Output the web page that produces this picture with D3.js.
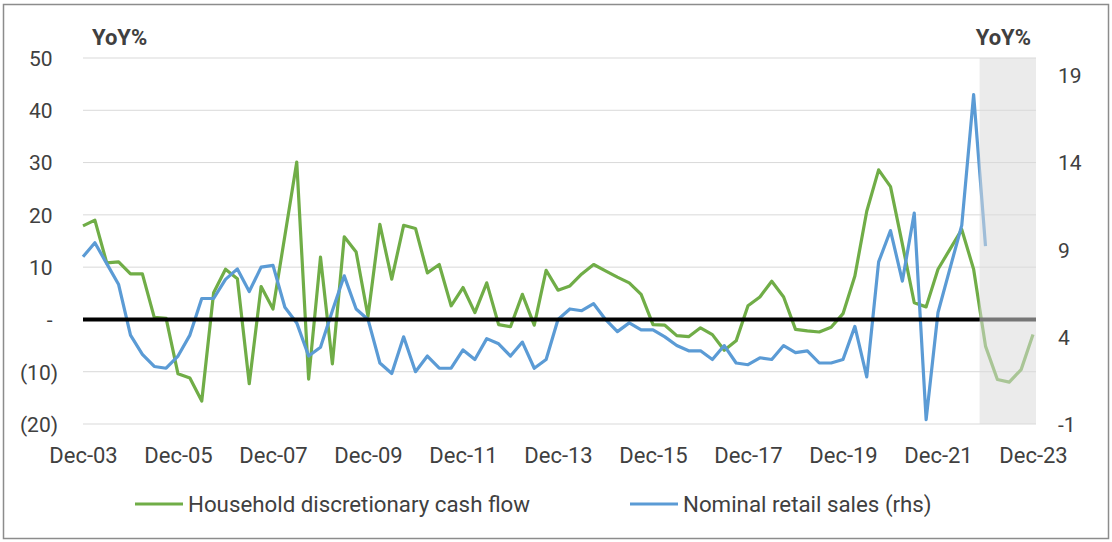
<!DOCTYPE html>
<html>
<head>
<meta charset="utf-8">
<script src="https://cdn.jsdelivr.net/npm/d3@7"></script>
<style>
  body { margin: 0; background: #fff; }
  svg text { font-family: Roboto, "Noto Sans", sans-serif; fill: #404040; }
</style>
</head>
<body>
<div id="chart"></div>
<script>
// quarterly, Dec-03 .. Dec-23 (81 points)
const xTickLabels = ['Dec-03','Dec-05','Dec-07','Dec-09','Dec-11','Dec-13','Dec-15','Dec-17','Dec-19','Dec-21','Dec-23'];
const leftTicks = [-20, -10, 0, 10, 20, 30, 40, 50];
const rightTicks = [-1, 4, 9, 14, 19];

// Household discretionary cash flow, YoY% (lhs); last 5 quarters = forecast
const cashFlow = [
  17.9, 19.0, 10.8, 11.0, 8.7, 8.7, 0.4, 0.2,
  -10.4, -11.2, -15.6, 5.1, 9.6, 7.8, -12.3, 6.3,
  2.0, 16.0, 30.1, -11.4, 11.9, -8.5, 15.8, 12.9,
  0.6, 18.2, 7.7, 18.0, 17.4, 8.9, 10.5, 2.6,
  6.1, 1.3, 7.0, -1.0, -1.4, 4.8, -1.1, 9.4,
  5.6, 6.4, 8.7, 10.5, 9.3, 8.1, 7.0, 4.8,
  -1.0, -1.1, -3.1, -3.3, -1.6, -2.9, -5.9, -4.1,
  2.6, 4.3, 7.3, 4.3, -1.9, -2.2, -2.4, -1.5,
  1.1, 8.3, 20.7, 28.6, 25.4, 14.4, 3.2, 2.4,
  9.6, 13.4, 17.2, 9.6, -5.1, -11.5, -12.0, -9.6,
  -2.9
];

// Nominal retail sales, YoY% (rhs)
const retailSales = [
  8.6, 9.4, 8.2, 7.0, 4.1, 3.0, 2.3, 2.2,
  2.9, 4.1, 6.2, 6.2, 7.3, 7.9, 6.6, 8.0,
  8.1, 5.7, 4.8, 2.9, 3.4, 5.5, 7.5, 5.6,
  5.0, 2.5, 1.9, 4.0, 2.0, 2.9, 2.2, 2.2,
  3.25, 2.7, 3.9, 3.6, 2.9, 3.7, 2.2, 2.7,
  5.0, 5.6, 5.5, 5.9, 5.0, 4.3, 4.8, 4.4,
  4.4, 4.0, 3.5, 3.2, 3.2, 2.7, 3.5, 2.5,
  2.4, 2.8, 2.7, 3.5, 3.1, 3.2, 2.5, 2.5,
  2.7, 4.6, 1.7, 8.3, 10.1, 7.2, 11.1, -0.75,
  5.4, 7.9, 10.4, 17.9, 9.2
];

const forecastStart = 75.5;   // shaded band starts half a quarter before Dec-22

const W = 1112, H = 542;
const plot = {left: 83, right: 1036, top: 58, bottom: 424};

const svg = d3.select('#chart').append('svg')
  .attr('width', W).attr('height', H);

// frame
svg.append('rect')
  .attr('x', 3.5).attr('y', 4.5).attr('width', 1105).attr('height', 534)
  .attr('fill', '#fff').attr('stroke', '#8c8c8c').attr('stroke-width', 1.5);

// scales
const x = d3.scaleLinear().domain([0, 80]).range([plot.left, 1033]);
const yL = d3.scaleLinear().domain([-20, 50]).range([plot.bottom, plot.top]);
const yR = d3.scaleLinear().domain([-1, 20]).range([plot.bottom, plot.top]);

// gridlines
svg.append('g').selectAll('line').data(leftTicks).join('line')
  .attr('x1', plot.left).attr('x2', plot.right)
  .attr('y1', d => yL(d)).attr('y2', d => yL(d))
  .attr('stroke', '#d9d9d9').attr('stroke-width', 1);

// series
const lineL = d3.line().x((d, i) => x(i)).y(d => yL(d));
const lineR = d3.line().x((d, i) => x(i)).y(d => yR(d));

svg.append('path').datum(cashFlow)
  .attr('d', lineL)
  .attr('fill', 'none').attr('stroke', '#70ad47').attr('stroke-width', 3.2)
  .attr('stroke-linejoin', 'round');

svg.append('path').datum(retailSales)
  .attr('d', lineR)
  .attr('fill', 'none').attr('stroke', '#5b9bd5').attr('stroke-width', 3.2)
  .attr('stroke-linejoin', 'round');

// zero line
svg.append('line')
  .attr('x1', plot.left).attr('x2', plot.right)
  .attr('y1', yL(0)).attr('y2', yL(0))
  .attr('stroke', '#000').attr('stroke-width', 4);

// forecast shading (semi-transparent, fades lines underneath)
svg.append('rect')
  .attr('x', x(forecastStart)).attr('y', plot.top)
  .attr('width', plot.right - x(forecastStart)).attr('height', plot.bottom - plot.top)
  .attr('fill', 'rgb(218,218,218)').attr('fill-opacity', 0.54);

// left axis
const fmtL = d => d === 0 ? '-' : (d < 0 ? `(${Math.abs(d)})` : `${d}`);
const axL = svg.append('g')
  .call(d3.axisLeft(yL).tickValues(leftTicks).tickSize(0).tickPadding(0).tickFormat(fmtL));
axL.select('.domain').remove();
axL.selectAll('text')
  .attr('x', d => d < 0 ? 58 : 52.5)
  .attr('dy', '0.35em')
  .style('font-size', '21px');

// right axis
const axR = svg.append('g').attr('transform', 'translate(1058,0)')
  .call(d3.axisRight(yR).tickValues(rightTicks).tickSize(0).tickPadding(0).tickFormat(d => `${d}`));
axR.select('.domain').remove();
axR.selectAll('text').attr('dy', '0.35em').style('font-size', '21px');

// x axis
const axX = svg.append('g').attr('transform', `translate(0,${plot.bottom})`)
  .call(d3.axisBottom(x).tickValues(xTickLabels.map((d, i) => i * 8)).tickSize(0)
    .tickFormat((d, i) => xTickLabels[i]));
axX.select('.domain').remove();
axX.selectAll('text').attr('y', 31).attr('dy', '0.35em').style('font-size', '22px');

// axis titles
svg.append('text').text('YoY%')
  .attr('x', 92).attr('y', 37).attr('dy', '0.35em')
  .style('font-size', '22px').style('font-weight', 'bold');
svg.append('text').text('YoY%')
  .attr('x', 1031).attr('y', 37).attr('dy', '0.35em').attr('text-anchor', 'end')
  .style('font-size', '22px').style('font-weight', 'bold');

// legend
const legendItems = [
  {name: 'Household discretionary cash flow', color: '#70ad47', x: 135},
  {name: 'Nominal retail sales (rhs)', color: '#5b9bd5', x: 630}
];
const lg = svg.append('g').selectAll('g').data(legendItems).join('g')
  .attr('transform', d => `translate(${d.x},504)`);
lg.append('line').attr('x1', 0).attr('x2', 48).attr('y1', 0).attr('y2', 0)
  .attr('stroke', d => d.color).attr('stroke-width', 3.2);
lg.append('text').text(d => d.name)
  .attr('x', 53).attr('dy', '0.35em').style('font-size', '22.3px');
</script>
</body>
</html>
